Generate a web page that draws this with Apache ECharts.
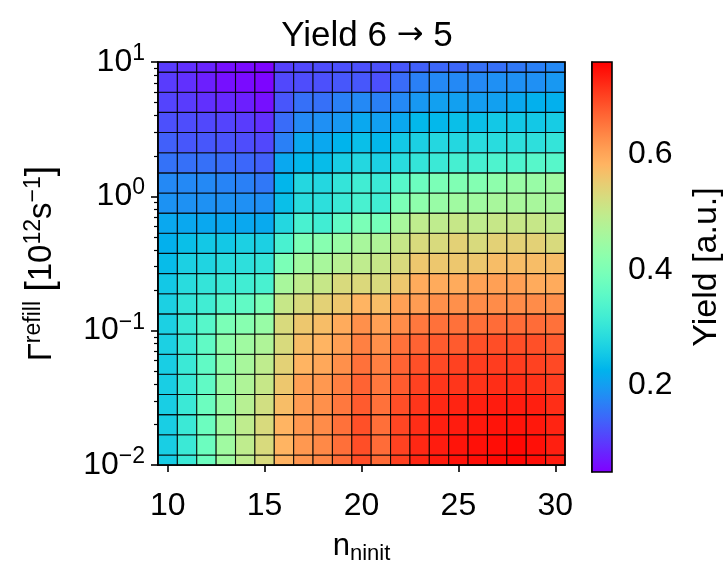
<!DOCTYPE html>
<html lang="en">
<head>
  <meta charset="UTF-8">
  <title>Yield 6 to 5</title>
  <script src="https://cdn.jsdelivr.net/npm/echarts@6/dist/echarts.min.js"></script>
  <style>
    html, body { margin: 0; padding: 0; background: #fff; }
    #chart { width: 725px; height: 570px; }
  </style>
</head>
<body>
<div id="chart"></div>
<script>
  // n_init values (x) and refill rates (y, log spaced)
  var nValues = [10, 11, 12, 13, 14, 15, 16, 17, 18, 19, 20, 21, 22, 23, 24, 25, 26, 27, 28, 29, 30];
  var gammaValues = [0.01, 0.014125, 0.019953, 0.028184, 0.039811, 0.056234, 0.079433, 0.112202,
    0.158489, 0.223872, 0.316228, 0.446684, 0.630957, 0.891251, 1.258925, 1.778279,
    2.511886, 3.548134, 5.011872, 7.079458, 10];

  // yield, one row per gamma value (lowest gamma first), columns follow nValues
  var yieldRows = [
    [0.260, 0.309, 0.377, 0.451, 0.494, 0.529, 0.585, 0.618, 0.634, 0.660, 0.692, 0.663, 0.703, 0.726, 0.737, 0.744, 0.748, 0.752, 0.756, 0.748, 0.735],
    [0.262, 0.309, 0.377, 0.451, 0.494, 0.529, 0.583, 0.616, 0.632, 0.658, 0.690, 0.661, 0.701, 0.724, 0.735, 0.742, 0.746, 0.749, 0.753, 0.746, 0.732],
    [0.262, 0.309, 0.377, 0.451, 0.494, 0.529, 0.583, 0.616, 0.629, 0.656, 0.688, 0.658, 0.697, 0.719, 0.732, 0.735, 0.739, 0.742, 0.742, 0.739, 0.728],
    [0.262, 0.309, 0.377, 0.440, 0.483, 0.519, 0.572, 0.611, 0.625, 0.649, 0.678, 0.656, 0.690, 0.712, 0.724, 0.728, 0.732, 0.735, 0.735, 0.732, 0.719],
    [0.262, 0.309, 0.362, 0.440, 0.472, 0.504, 0.558, 0.607, 0.616, 0.641, 0.670, 0.649, 0.678, 0.701, 0.712, 0.712, 0.715, 0.719, 0.719, 0.715, 0.705],
    [0.262, 0.309, 0.362, 0.426, 0.462, 0.494, 0.543, 0.583, 0.597, 0.625, 0.656, 0.641, 0.670, 0.688, 0.694, 0.701, 0.705, 0.705, 0.705, 0.701, 0.694],
    [0.266, 0.309, 0.362, 0.426, 0.451, 0.472, 0.529, 0.572, 0.583, 0.607, 0.641, 0.625, 0.656, 0.670, 0.678, 0.678, 0.688, 0.690, 0.690, 0.688, 0.678],
    [0.266, 0.309, 0.348, 0.398, 0.416, 0.440, 0.529, 0.558, 0.572, 0.593, 0.625, 0.607, 0.629, 0.649, 0.656, 0.656, 0.658, 0.661, 0.661, 0.661, 0.656],
    [0.266, 0.300, 0.318, 0.348, 0.362, 0.398, 0.504, 0.529, 0.543, 0.558, 0.583, 0.572, 0.607, 0.611, 0.625, 0.625, 0.629, 0.629, 0.629, 0.629, 0.625],
    [0.254, 0.284, 0.300, 0.309, 0.318, 0.329, 0.462, 0.494, 0.504, 0.529, 0.532, 0.529, 0.558, 0.593, 0.593, 0.593, 0.605, 0.607, 0.607, 0.593, 0.593],
    [0.237, 0.266, 0.272, 0.284, 0.291, 0.300, 0.398, 0.451, 0.462, 0.483, 0.494, 0.504, 0.529, 0.558, 0.558, 0.558, 0.558, 0.572, 0.572, 0.572, 0.572],
    [0.223, 0.242, 0.254, 0.254, 0.266, 0.266, 0.329, 0.398, 0.416, 0.440, 0.462, 0.472, 0.504, 0.529, 0.529, 0.543, 0.529, 0.543, 0.543, 0.543, 0.529],
    [0.213, 0.213, 0.213, 0.213, 0.213, 0.215, 0.277, 0.329, 0.318, 0.362, 0.398, 0.390, 0.462, 0.494, 0.494, 0.504, 0.494, 0.504, 0.504, 0.504, 0.494],
    [0.188, 0.186, 0.186, 0.186, 0.185, 0.185, 0.242, 0.285, 0.290, 0.309, 0.329, 0.318, 0.398, 0.426, 0.440, 0.451, 0.451, 0.462, 0.462, 0.462, 0.462],
    [0.178, 0.178, 0.178, 0.173, 0.169, 0.161, 0.230, 0.277, 0.277, 0.300, 0.318, 0.309, 0.348, 0.377, 0.398, 0.405, 0.410, 0.426, 0.440, 0.440, 0.451],
    [0.155, 0.153, 0.153, 0.149, 0.144, 0.137, 0.213, 0.232, 0.237, 0.262, 0.277, 0.266, 0.284, 0.300, 0.309, 0.325, 0.325, 0.335, 0.335, 0.348, 0.348],
    [0.137, 0.129, 0.129, 0.125, 0.119, 0.115, 0.169, 0.213, 0.213, 0.228, 0.242, 0.232, 0.254, 0.266, 0.277, 0.277, 0.284, 0.284, 0.291, 0.291, 0.300],
    [0.122, 0.119, 0.115, 0.111, 0.104, 0.093, 0.149, 0.178, 0.185, 0.194, 0.213, 0.203, 0.213, 0.232, 0.232, 0.242, 0.242, 0.254, 0.254, 0.254, 0.259],
    [0.111, 0.104, 0.093, 0.086, 0.078, 0.064, 0.128, 0.153, 0.153, 0.169, 0.178, 0.169, 0.178, 0.194, 0.203, 0.203, 0.200, 0.203, 0.213, 0.223, 0.223],
    [0.104, 0.093, 0.078, 0.064, 0.059, 0.054, 0.115, 0.119, 0.122, 0.129, 0.129, 0.122, 0.149, 0.169, 0.178, 0.178, 0.178, 0.185, 0.185, 0.185, 0.194],
    [0.104, 0.093, 0.082, 0.064, 0.059, 0.054, 0.108, 0.115, 0.119, 0.122, 0.122, 0.122, 0.129, 0.137, 0.144, 0.144, 0.153, 0.153, 0.161, 0.169, 0.178]
  ];

  var xTicks = [10, 15, 20, 25, 30];
  var yTicks = [0.01, 0.1, 1, 10];
  var yMinorTicks = [0.02, 0.03, 0.04, 0.05, 0.06, 0.07, 0.08, 0.09,
    0.2, 0.3, 0.4, 0.5, 0.6, 0.7, 0.8, 0.9, 2, 3, 4, 5, 6, 7, 8, 9];
  var cbarTicks = [0.2, 0.4, 0.6];
  var yieldMin = 0.05, yieldMax = 0.76;

  var FONT = '"Liberation Sans", Arial, Helvetica, sans-serif';

  // matplotlib "rainbow" colormap
  function rainbow(t) {
    function c(v) { return Math.round(Math.max(0, Math.min(1, v)) * 255); }
    return 'rgb(' + c(Math.abs(2 * t - 0.5)) + ',' + c(Math.sin(Math.PI * t)) + ',' + c(Math.cos(Math.PI * t / 2)) + ')';
  }
  var rainbowColors = [], rainbowStops = [];
  for (var k = 0; k <= 64; k++) {
    rainbowColors.push(rainbow(k / 64));
    rainbowStops.push({ offset: 1 - k / 64, color: rainbow(k / 64) });
  }

  // cell edges in log space, half-way between neighbouring gamma values
  function edgeLow(j) {
    return j > 0 ? Math.sqrt(gammaValues[j - 1] * gammaValues[j]) : gammaValues[0] * gammaValues[0] / Math.sqrt(gammaValues[0] * gammaValues[1]);
  }
  function edgeHigh(j) {
    var m = gammaValues.length - 1;
    return j < m ? Math.sqrt(gammaValues[j] * gammaValues[j + 1]) : gammaValues[m] * gammaValues[m] / Math.sqrt(gammaValues[m - 1] * gammaValues[m]);
  }

  var cells = [];
  for (var j = 0; j < gammaValues.length; j++) {
    for (var i = 0; i < nValues.length; i++) {
      cells.push([nValues[i], gammaValues[j], yieldRows[j][i], edgeLow(j), edgeHigh(j)]);
    }
  }

  function powLabel(v) {
    var e = Math.round(Math.log10(v));
    return '{b|10}{s|' + String(e).replace('-', '\u2212') + '}';
  }
  var supRich = {
    b: { fontFamily: FONT, fontSize: 32, color: '#000', lineHeight: 40 },
    s: { fontFamily: FONT, fontSize: 23, color: '#000', lineHeight: 16, verticalAlign: 'top' }
  };

  var chart = echarts.init(document.getElementById('chart'), null, { renderer: 'canvas' });
  chart.setOption({
    animation: false,
    backgroundColor: '#fff',
    title: {
      text: '{t|Yield 6 }{r|\u2192}{t| 5}',
      left: 362, top: 10, textAlign: 'center',
      textStyle: { fontWeight: 'normal', rich: {
        t: { fontFamily: FONT, fontSize: 35, fontWeight: 'normal', color: '#000', lineHeight: 42 },
        r: { fontFamily: '"DejaVu Sans", sans-serif', fontSize: 32, fontWeight: 'normal', color: '#000', lineHeight: 42 }
      } }
    },
    grid: [
      { left: 158, top: 62, width: 407, height: 410, show: true, z: 10,
        backgroundColor: 'transparent', borderColor: '#000', borderWidth: 1.6 },
      { left: 592, top: 62, width: 20, height: 410, show: true, z: 10,
        backgroundColor: 'transparent', borderColor: '#000', borderWidth: 1.6 }
    ],
    visualMap: {
      show: false, type: 'continuous', seriesIndex: 0, dimension: 2,
      min: yieldMin, max: yieldMax, inRange: { color: rainbowColors }
    },
    xAxis: [
      { type: 'value', gridIndex: 0, min: 9.5, max: 30.5,
        name: '{a|n}{u|ninit}', nameLocation: 'middle', nameGap: 62,
        nameTextStyle: { rich: {
          a: { fontFamily: FONT, fontSize: 31, color: '#000', lineHeight: 38 },
          u: { fontFamily: FONT, fontSize: 22, color: '#000', lineHeight: 16, verticalAlign: 'bottom' }
        } },
        axisLine: { show: true, lineStyle: { color: '#000', width: 1.6 } },
        axisTick: { show: true, length: 7, customValues: xTicks, lineStyle: { color: '#000', width: 1.6 } },
        axisLabel: { customValues: xTicks, margin: 25, fontFamily: FONT, fontSize: 32, color: '#000' },
        splitLine: { show: false } },
      { type: 'value', gridIndex: 1, min: 0, max: 1, show: false }
    ],
    yAxis: [
      { type: 'log', logBase: 10, gridIndex: 0, min: 0.01, max: 10, position: 'left',
        name: '{a|\u0393}{s|refill}{a| }{k|[}{a|10}{s|12}{a|s}{s|\u22121}{k|]}',
        nameLocation: 'middle', nameGap: 96, nameRotate: 90,
        nameTextStyle: { rich: {
          a: { fontFamily: FONT, fontSize: 33, color: '#000', lineHeight: 40 },
          k: { fontFamily: FONT, fontSize: 38, color: '#000', lineHeight: 40 },
          s: { fontFamily: FONT, fontSize: 23, color: '#000', lineHeight: 16, verticalAlign: 'top' }
        } },
        axisLine: { show: true, lineStyle: { color: '#000', width: 1.6 } },
        axisTick: { show: true, length: 7, customValues: yTicks, lineStyle: { color: '#000', width: 1.6 } },
        axisLabel: { customValues: yTicks, margin: 13, formatter: powLabel, rich: supRich },
        splitLine: { show: false } },
      { type: 'log', logBase: 10, gridIndex: 0, min: 0.01, max: 10, position: 'left', offset: 0,
        axisLine: { show: false },
        axisTick: { show: true, length: 4, customValues: yMinorTicks, lineStyle: { color: '#000', width: 1.2 } },
        axisLabel: { show: false }, splitLine: { show: false } },
      { type: 'value', gridIndex: 1, min: yieldMin, max: yieldMax, position: 'right',
        name: 'Yield [a.u.]', nameLocation: 'middle', nameGap: 78, nameRotate: 90,
        nameTextStyle: { fontFamily: FONT, fontSize: 34, color: '#000' },
        axisLine: { show: true, lineStyle: { color: '#000', width: 1.6 } },
        axisTick: { show: true, length: 7, customValues: cbarTicks, lineStyle: { color: '#000', width: 1.6 } },
        axisLabel: { customValues: cbarTicks, margin: 16, fontFamily: FONT, fontSize: 32, color: '#000',
          formatter: function (v) { return v.toFixed(1); } },
        splitLine: { show: false } }
    ],
    series: [
      {
        type: 'custom', coordinateSystem: 'cartesian2d', xAxisIndex: 0, yAxisIndex: 0,
        data: cells,
        renderItem: function (params, api) {
          var p0 = api.coord([api.value(0) - 0.5, api.value(4)]);
          var p1 = api.coord([api.value(0) + 0.5, api.value(3)]);
          var rect = echarts.graphic.clipRectByRect(
            { x: p0[0], y: p0[1], width: p1[0] - p0[0], height: p1[1] - p0[1] },
            { x: params.coordSys.x, y: params.coordSys.y, width: params.coordSys.width, height: params.coordSys.height });
          if (!rect) return;
          return { type: 'rect', shape: rect,
            style: { fill: api.visual('color'), stroke: 'rgba(0,0,0,0.85)', lineWidth: 1.1 } };
        }
      },
      {
        type: 'custom', coordinateSystem: 'cartesian2d', xAxisIndex: 1, yAxisIndex: 2,
        data: [[0, yieldMin, 1, yieldMax]],
        renderItem: function (params, api) {
          var p0 = api.coord([api.value(0), api.value(3)]);
          var p1 = api.coord([api.value(2), api.value(1)]);
          return { type: 'rect',
            shape: { x: p0[0], y: p0[1], width: p1[0] - p0[0], height: p1[1] - p0[1] },
            style: { fill: new echarts.graphic.LinearGradient(0, 0, 0, 1, rainbowStops) } };
        }
      }
    ]
  });
</script>
</body>
</html>
